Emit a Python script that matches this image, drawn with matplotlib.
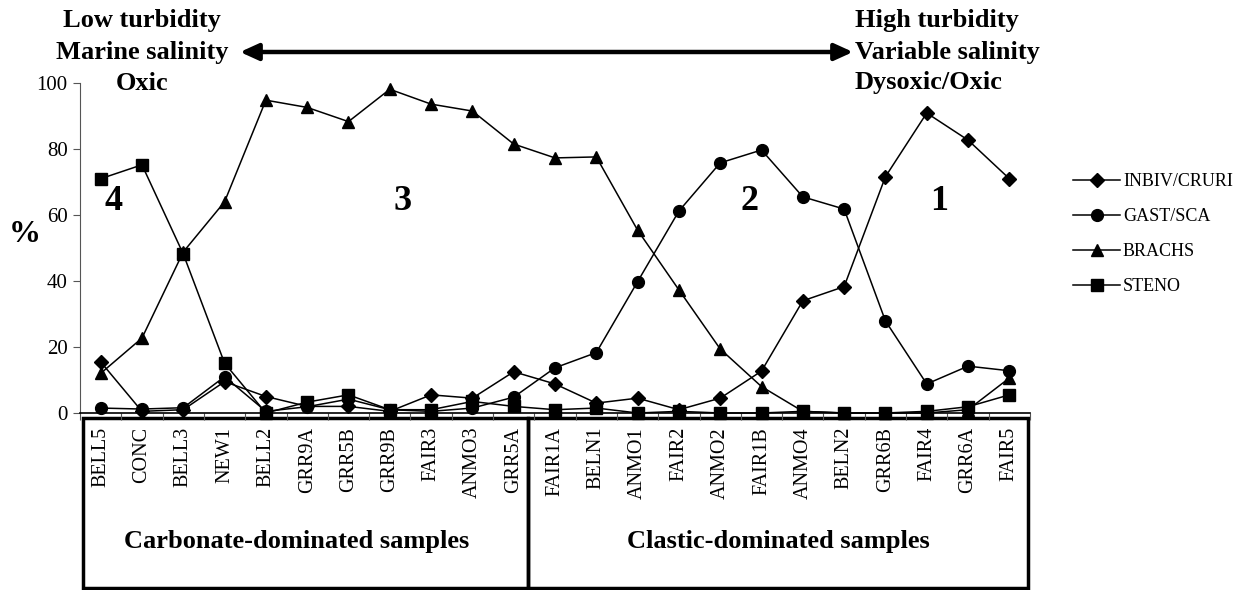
import numpy as np
import matplotlib.pyplot as plt
from matplotlib import transforms
from matplotlib.patches import Rectangle

plt.rcParams['font.family'] = ['Liberation Serif', 'DejaVu Serif']

samples = ['BELL5', 'CONC', 'BELL3', 'NEW1', 'BELL2', 'GRR9A', 'GRR5B', 'GRR9B',
           'FAIR3', 'ANMO3', 'GRR5A', 'FAIR1A', 'BELN1', 'ANMO1', 'FAIR2', 'ANMO2',
           'FAIR1B', 'ANMO4', 'BELN2', 'GRR6B', 'FAIR4', 'GRR6A', 'FAIR5']

# % of each faunal group per sample
inbiv = [15.5, 0.5, 1.0, 9.5, 5.0, 2.0, 2.0, 0.5, 5.5, 4.5, 12.5, 8.8, 3.0, 4.5, 1.0,
         4.5, 12.7, 34.0, 38.3, 71.6, 90.9, 82.7, 71.0]
gast = [1.5, 1.2, 1.6, 11.0, 0.5, 1.9, 4.2, 1.0, 0.5, 1.5, 4.8, 13.7, 18.3, 39.8, 61.2,
        75.8, 79.7, 65.5, 61.8, 27.9, 8.8, 14.2, 12.8]
brachs = [12.0, 22.7, 48.8, 64.0, 94.8, 92.6, 88.3, 98.1, 93.6, 91.5, 81.5, 77.3, 77.6,
          55.4, 37.3, 19.4, 8.0, 0.5, 0.0, 0.0, 0.0, 1.0, 10.6]
steno = [71.0, 75.2, 48.2, 15.1, 0.0, 3.3, 5.5, 1.0, 1.0, 3.5, 2.0, 1.0, 1.5, 0.0, 0.5,
         0.0, 0.0, 0.5, 0.0, 0.0, 0.5, 1.9, 5.5]

series = [('INBIV/CRURI', inbiv, 'D', 7), ('GAST/SCA', gast, 'o', 8.5),
          ('BRACHS', brachs, '^', 8.5), ('STENO', steno, 's', 8)]

fig = plt.figure(figsize=(12.48, 5.90), dpi=100)
ax = fig.add_axes([80/1248, 177/590, 950/1248, 330/590])

x = np.arange(len(samples))
for name, vals, m, ms in series:
    ax.plot(x, vals, color='black', lw=1.1, marker=m, ms=ms, mfc='black', mec='black',
            label=name, clip_on=False, zorder=3)

ax.set_xlim(-0.5, len(samples) - 0.5)
ax.set_ylim(0, 100)
ax.set_yticks(range(0, 101, 20))
ax.tick_params(axis='y', labelsize=15, length=5, width=0.8, color='#555555', pad=4)
ax.set_xticks(x)
ax.set_xticklabels(samples, rotation=90, va='top', fontsize=14.5)
ax.set_xticks(np.arange(-0.5, len(samples), 1.0), minor=True)
ax.tick_params(axis='x', which='major', length=0, pad=10)
ax.tick_params(axis='x', which='minor', length=5, width=0.8, color='#555555')
for s in ['top', 'right']:
    ax.spines[s].set_visible(False)
ax.spines['left'].set_color('#555555')
ax.spines['left'].set_linewidth(0.8)
ax.spines['bottom'].set_linewidth(1.2)

ax.set_ylabel('%', fontsize=23, fontweight='bold', rotation=0, va='center')
ax.yaxis.set_label_coords(-0.058, 0.54)

# sample-type boxes under the axis
trans = transforms.blended_transform_factory(ax.transData, ax.transAxes)
box_top, box_bot = -0.016, -0.53
split = 10.35
for x0, x1 in [(-0.43, split), (split, 22.45)]:
    ax.add_patch(Rectangle((x0, box_bot), x1 - x0, box_top - box_bot, transform=trans,
                           fill=False, lw=2.5, ec='black', clip_on=False))
ax.text(4.75, -0.39, 'Carbonate-dominated samples', transform=trans,
        ha='center', va='center', fontsize=19, fontweight='bold')
ax.text(16.4, -0.39, 'Clastic-dominated samples', transform=trans,
        ha='center', va='center', fontsize=19, fontweight='bold')

# assemblage numbers
for lab, xp in [('4', 0.3), ('3', 7.3), ('2', 15.7), ('1', 20.3)]:
    ax.text(xp, 64, lab, ha='center', va='center', fontsize=26, fontweight='bold')

# environmental gradient
left_lines = ['Low turbidity', 'Marine salinity', 'Oxic']
right_lines = ['High turbidity', 'Variable salinity', 'Dysoxic/Oxic']
for yp, l_txt, r_txt in zip([20, 52, 83], left_lines, right_lines):
    fig.text(142/1248, 1 - yp/590, l_txt, ha='center', va='center', fontsize=19, fontweight='bold')
    fig.text(855/1248, 1 - yp/590, r_txt, ha='left', va='center', fontsize=19, fontweight='bold')
ax.annotate('', xy=(240, 590 - 52), xycoords='figure pixels', xytext=(853, 590 - 52),
            textcoords='figure pixels',
            arrowprops=dict(arrowstyle='<|-|>,head_length=1.1,head_width=0.5', lw=3.2,
                            color='black', shrinkA=0, shrinkB=0))

leg = ax.legend(loc='upper left', bbox_to_anchor=(1057/1248, 1 - 157/590),
                bbox_transform=fig.transFigure, frameon=False, fontsize=13,
                handlelength=2.6, handletextpad=0.15, labelspacing=1.0)

fig.savefig('out.png', dpi=100)
